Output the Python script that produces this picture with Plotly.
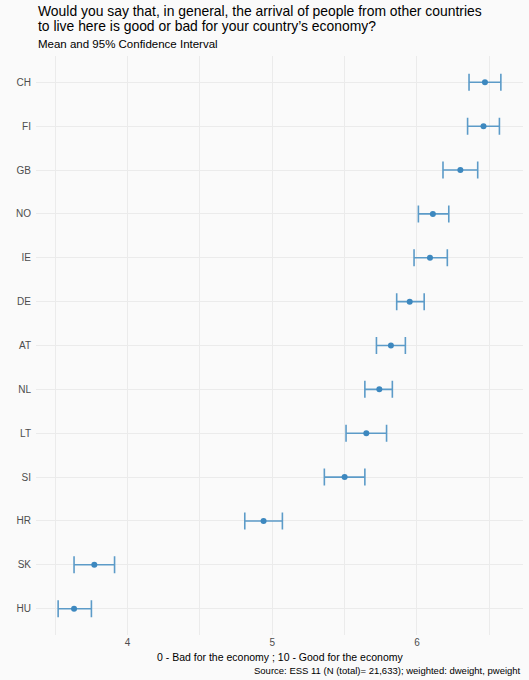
import plotly.graph_objects as go

countries = ["CH", "FI", "GB", "NO", "IE", "DE", "AT", "NL", "LT", "SI", "HR", "SK", "HU"]
means = [6.47, 6.46, 6.30, 6.11, 6.09, 5.95, 5.82, 5.74, 5.65, 5.50, 4.94, 3.77, 3.63]
ci_low = [6.36, 6.35, 6.18, 6.01, 5.98, 5.86, 5.72, 5.64, 5.51, 5.36, 4.81, 3.63, 3.52]
ci_high = [6.58, 6.57, 6.42, 6.22, 6.21, 6.05, 5.92, 5.83, 5.79, 5.64, 5.07, 3.91, 3.75]
x_ticks = [4, 5, 6]

err_plus = [h - m for h, m in zip(ci_high, means)]
err_minus = [m - l for m, l in zip(means, ci_low)]

FONT = "Liberation Sans, Arial, sans-serif"
BG = "#fafafa"
GRID = "#ebebeb"

fig = go.Figure()
fig.add_trace(go.Scatter(
    x=means, y=countries, mode="markers",
    marker=dict(color="#3d88bf", size=6),
    error_x=dict(type="data", symmetric=False, array=err_plus, arrayminus=err_minus,
                 color="#5c9bc8", thickness=1.6, width=8.5),
    showlegend=False,
))

lo = min(ci_low); hi = max(ci_high); pad = (hi - lo) * 0.05

fig.update_layout(
    width=529, height=680,
    margin=dict(l=36, r=6, t=56, b=45, autoexpand=False),
    paper_bgcolor=BG, plot_bgcolor=BG,
    font=dict(family=FONT, color="#4d4d4d", size=10),
    xaxis=dict(range=[lo - pad, hi + pad], tickvals=x_ticks, ticktext=[str(v) for v in x_ticks],
               showgrid=True, gridcolor=GRID, gridwidth=1, zeroline=False, showline=False,
               ticks="", tickfont=dict(size=10, color="#4d4d4d"), automargin=False,
               minor=dict(tickvals=[3.5, 4.5, 5.5, 6.5], showgrid=True, gridcolor=GRID, gridwidth=0.8)),
    yaxis=dict(categoryorder="array", categoryarray=countries, range=[12.6, -0.6],
               showgrid=True, gridcolor=GRID, gridwidth=1, zeroline=False, showline=False,
               ticks="", tickfont=dict(size=10, color="#4d4d4d"), ticklabelstandoff=4,
               automargin=False),
    annotations=[
        dict(text="Would you say that, in general, the arrival of people from other countries",
             xref="paper", yref="paper", x=0, y=1, yshift=45, xanchor="left", yanchor="middle",
             align="left", showarrow=False, font=dict(family=FONT, size=13.9, color="#000000")),
        dict(text="to live here is good or bad for your country\u2019s economy?",
             xref="paper", yref="paper", x=0, y=1, yshift=30, xanchor="left", yanchor="middle",
             align="left", showarrow=False, font=dict(family=FONT, size=13.9, color="#000000")),
        dict(text="Mean and 95% Confidence Interval",
             xref="paper", yref="paper", x=0, y=1, yshift=12, xanchor="left", yanchor="middle",
             align="left", showarrow=False, font=dict(family=FONT, size=11.5, color="#000000")),
        dict(text="0 - Bad for the economy ; 10 - Good for the economy",
             xref="paper", yref="paper", x=0.5, y=0, yshift=-14, xanchor="center", yanchor="top",
             showarrow=False, font=dict(family=FONT, size=10.5, color="#000000")),
        dict(text="Source: ESS 11 (N (total)= 21,633); weighted: dweight, pweight",
             xref="paper", yref="paper", x=1, y=0, yshift=-28, xanchor="right", yanchor="top",
             showarrow=False, font=dict(family=FONT, size=9.5, color="#000000")),
    ],
)

fig.write_html("out.html", config={"displayModeBar": False},
               post_script="document.body.style.margin='0';document.body.style.background='#fafafa';")
